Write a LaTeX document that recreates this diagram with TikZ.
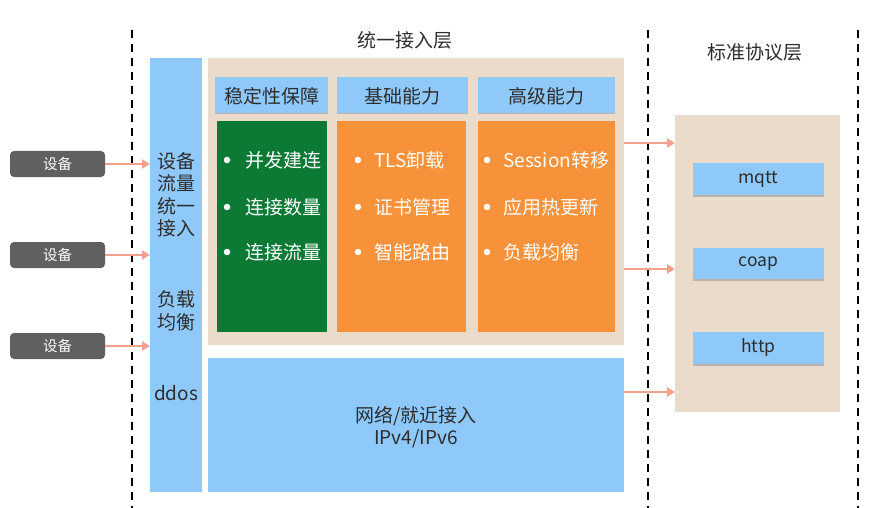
\documentclass[tikz,border=0pt]{standalone}
\usepackage{fontspec}
\setmainfont{Noto Sans CJK SC}
\usetikzlibrary{arrows.meta,shadows}
\definecolor{lblue}{RGB}{143,201,250}
\definecolor{beige}{RGB}{235,219,203}
\definecolor{dgreen}{RGB}{12,122,52}
\definecolor{orng}{RGB}{248,146,58}
\definecolor{dgray}{RGB}{96,96,96}
\definecolor{salmon}{RGB}{244,160,140}
\definecolor{txt}{RGB}{45,45,45}
\begin{document}
\begin{tikzpicture}[x=1pt,y=-1pt,
  box/.style={fill=#1,draw=none,inner sep=0pt},
  hdr/.style={fill=lblue,draw=none,drop shadow={shadow xshift=0pt,shadow yshift=-1.5pt,opacity=0.35,fill=black!60}},
  big/.style={font=\fontsize{19}{23}\selectfont,text=txt},
  stack/.style={align=center,font=\fontsize{19}{22.5}\selectfont,text=txt},
  item/.style={font=\fontsize{19}{23}\selectfont,text=white,anchor=west,inner sep=0pt},
  dot/.style={circle,fill=white,inner sep=0pt,minimum size=6.5pt},
  dev/.style={rounded corners=4pt,fill=dgray,text=white,font=\fontsize{14.5}{16}\selectfont,minimum width=95pt,minimum height=26pt,inner sep=0pt},
  proto/.style={font=\fontsize{17.5}{20}\selectfont,text=txt},
  arr/.style={draw=salmon,line width=2.4pt,-{Triangle[length=8pt,width=9pt]}},
  sep/.style={draw=black,line width=1.6pt,dash pattern=on 8pt off 6pt}]
\useasboundingbox (0,0) rectangle (878,508);
% dashed separators
\draw[sep] (132,30) -- (132,508);
\draw[sep] (648,30) -- (648,508);
\draw[sep] (858,30) -- (858,508);
% titles
\node[big] (t1) at (405,40) {统一接入层};
\node[big] (t2) at (755,52) {标准协议层};
% left column
\path[box=lblue] (150,58) rectangle (202,492);
\coordinate (colW) at (150,300);
\node[stack] (c1) at (176,195) {设备\\流量\\统一\\接入};
\node[stack] (c2) at (176,311) {负载\\均衡};
\node[big] (c3) at (176,393) {ddos};
% devices
\node[dev] (d1) at (57.5,164) {设备};
\node[dev] (d2) at (57.5,255) {设备};
\node[dev] (d3) at (57.5,346) {设备};
\foreach \d in {d1,d2,d3} \draw[arr] (\d.east) -- (\d.east -| colW);
% container
\path[box=beige] (208,58) rectangle (624,345);
\path[hdr] (215,77) rectangle (328,113);
\path[hdr] (337,77) rectangle (468,113);
\path[hdr] (478,77) rectangle (615,113);
\node[big] (h1) at (271.5,96) {稳定性保障};
\node[big] (h2) at (402.5,96) {基础能力};
\node[big] (h3) at (546.5,96) {高级能力};
\path[box=dgreen] (217,121) rectangle (327,332);
\path[box=orng] (337,121) rectangle (466,332);
\path[box=orng] (478,121) rectangle (615,332);
% items
\foreach \y/\a/\b/\c in {160/并发建连/TLS卸载/Session转移, 207/连接数量/证书管理/应用热更新, 252/连接流量/智能路由/负载均衡}{
  \node[dot] at (227,\y) {};
  \node[item] at (245,\y) {\a};
  \node[dot] at (358,\y) {};
  \node[item] at (374,\y) {\b};
  \node[dot] at (487,\y) {};
  \node[item] at (503,\y) {\c};
}
% bottom box
\path[box=lblue] (208,358) rectangle (624,492);
\node[stack] (net) at (416,427) {网络/就近接入\\IPv4/IPv6};
% right container
\path[box=beige] (675,115) rectangle (840,412);
\coordinate (rW) at (675,200);
\path[hdr] (693,163) rectangle (824,195);
\path[hdr] (693,248) rectangle (824,279);
\path[hdr] (693,332) rectangle (824,364);
\node[proto] (p1) at (758.5,179) {mqtt};
\node[proto] (p2) at (758.5,263.5) {coap};
\node[proto] (p3) at (758.5,348) {http};
% right arrows
\coordinate (a1) at (624,143);
\coordinate (a2) at (624,269);
\coordinate (a3) at (624,392);
\foreach \a in {a1,a2,a3} \draw[arr] (\a) -- (\a -| rW);
\end{tikzpicture}
\end{document}
